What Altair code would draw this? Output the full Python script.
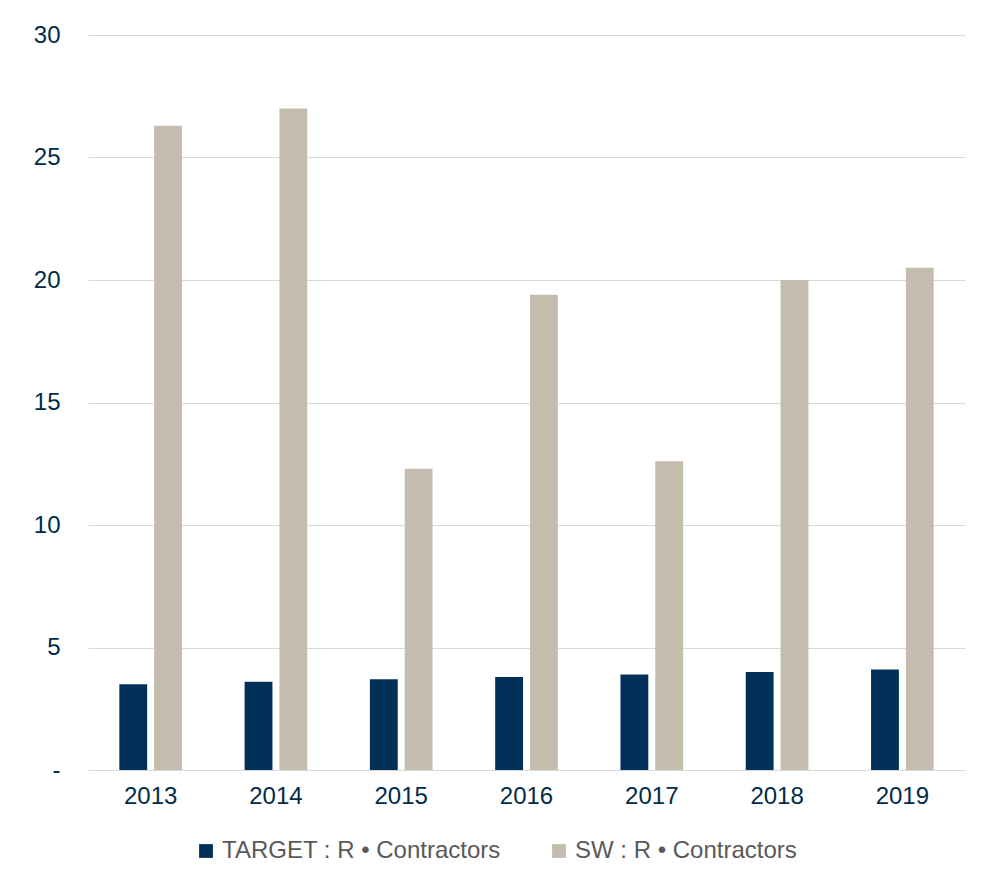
import altair as alt
import pandas as pd

years = ["2013", "2014", "2015", "2016", "2017", "2018", "2019"]
series = ["TARGET : R • Contractors", "SW : R • Contractors"]
target = [3.5, 3.6, 3.7, 3.8, 3.9, 4.0, 4.1]
sw = [26.3, 27.0, 12.3, 19.4, 12.6, 20.0, 20.5]

rows = []
for i, y in enumerate(years):
    rows.append({"year": y, "series": series[0], "value": target[i]})
    rows.append({"year": y, "series": series[1], "value": sw[i]})
df = pd.DataFrame(rows)

font = "Liberation Sans"

chart = alt.Chart(df).mark_bar().encode(
    x=alt.X("year:N", title=None,
            scale=alt.Scale(paddingInner=0.5, paddingOuter=0.25),
            axis=alt.Axis(labelAngle=0, labelFontSize=24, labelColor="#002b49",
                          domainColor="#d9d9d9", ticks=False, labelPadding=14)),
    xOffset=alt.XOffset("series:N", sort=series,
                        scale=alt.Scale(paddingInner=0.2, paddingOuter=0)),
    y=alt.Y("value:Q", title=None,
            scale=alt.Scale(domain=[0, 30]),
            axis=alt.Axis(values=[0, 5, 10, 15, 20, 25, 30], labelFontSize=24,
                          labelColor="#002b49", domain=False, ticks=False,
                          gridColor="#d9d9d9", labelPadding=28,
                          labelExpr="datum.value == 0 ? '-' : datum.label")),
    color=alt.Color("series:N", sort=series,
                    scale=alt.Scale(domain=series, range=["#003057", "#c4bdad"]),
                    legend=alt.Legend(title=None, orient="none", direction="horizontal",
                                      legendX=106, legendY=804, symbolType="square",
                                      symbolSize=190, symbolStrokeWidth=0,
                                      labelFontSize=24, labelColor="#595959",
                                      columnPadding=46, labelLimit=400)),
).properties(
    width=877, height=735,
    autosize=alt.AutoSizeParams(type="none"),
    padding={"left": 80, "top": 27, "right": 9, "bottom": 111},
).configure(font=font).configure_view(stroke=None, strokeWidth=0)

chart.save("out.html", embed_options={"renderer": "svg", "actions": False})
